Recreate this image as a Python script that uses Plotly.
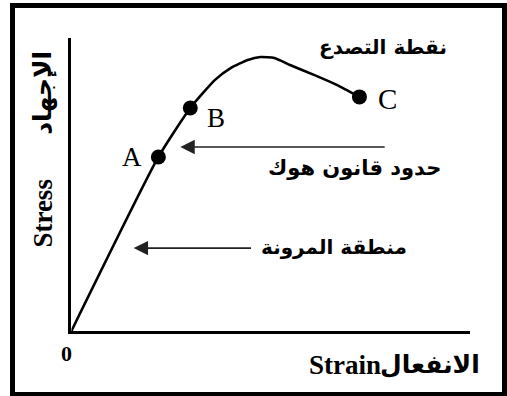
import plotly.graph_objects as go

# Curve (strain, stress), arbitrary units 0..10
strain = [0.0, 2.18, 2.98, 3.60, 4.00, 4.42, 4.74, 5.09, 5.48, 6.08, 6.65, 7.22]
stress = [0.0, 5.94, 7.61, 8.57, 8.98, 9.25, 9.35, 9.32, 9.08, 8.74, 8.40, 7.99]

point_names = ["A", "B", "C"]
point_strain = [2.18, 2.98, 7.22]
point_stress = [5.94, 7.61, 7.99]

label_yield = "نقطة التصدع"
label_hooke = "حدود قانون هوك"
label_elastic = "منطقة المرونة"
x_title_en = "Strain"
x_title_ar = "الانفعال"
y_title_en = "Stress"
y_title_ar = "الإجهاد"

hooke_arrow_y = 6.28
elastic_arrow_y = 2.83

serif = "Liberation Serif, Times New Roman, serif"
arab = "DejaVu Sans, sans-serif"

fig = go.Figure()
# empty trace so the full-size frame subplot is created and its axis lines drawn
fig.add_trace(go.Scatter(x=[], y=[], xaxis="x", yaxis="y", mode="lines", hoverinfo="skip"))
fig.add_trace(go.Scatter(x=strain, y=stress, mode="lines", xaxis="x2", yaxis="y2",
                         line=dict(color="black", width=2.6, shape="spline", smoothing=0.5),
                         hoverinfo="skip"))
fig.add_trace(go.Scatter(x=point_strain, y=point_stress, mode="markers", xaxis="x2", yaxis="y2",
                         marker=dict(color="black", size=15), hoverinfo="skip"))

ann = []
offsets = {"A": (-26, 0, 27), "B": (26, -10, 27), "C": (28, -2, 29)}
for n, xv, yv in zip(point_names, point_strain, point_stress):
    dx, dy, fs = offsets[n]
    ann.append(dict(xref="x2", yref="y2", x=xv, y=yv, text=n, showarrow=False,
                    xshift=dx, yshift=dy, xanchor="center", yanchor="middle",
                    font=dict(family=serif, size=fs, color="black")))

ann.append(dict(x=2.73, y=hooke_arrow_y, ax=7.89, ay=hooke_arrow_y, axref="x2", ayref="y2",
                xref="x2", yref="y2", text="", showarrow=True, arrowhead=2, arrowsize=1.8,
                arrowwidth=1.6, arrowcolor="#222"))
ann.append(dict(x=1.56, y=elastic_arrow_y, ax=4.54, ay=elastic_arrow_y, axref="x2", ayref="y2",
                xref="x2", yref="y2", text="", showarrow=True, arrowhead=2, arrowsize=1.8,
                arrowwidth=1.6, arrowcolor="#222"))

def txt(x, y, t, fam, size, dom=False, angle=0):
    xr, yr = ("x2 domain", "y2 domain") if dom else ("x2", "y2")
    return dict(xref=xr, yref=yr, x=x, y=y, text=t, showarrow=False,
                xanchor="center", yanchor="middle", textangle=angle,
                font=dict(family=fam, size=size, color="black"))

ann.append(txt(7.82, 9.69, "<b>" + label_yield + "</b>", arab, 20))
ann.append(txt(7.10, 5.56, "<b>" + label_hooke + "</b>", arab, 21))
ann.append(txt(6.58, 2.87, "<b>" + label_elastic + "</b>", arab, 20))

ann.append(dict(xref="x2", yref="y2", x=0, y=0, text="<b>0</b>", showarrow=False,
                xshift=-5, yshift=-23, xanchor="center", yanchor="middle",
                font=dict(family=serif, size=22, color="black")))

ann.append(txt(0.687, -0.116, "<b>" + x_title_en + "</b>", serif, 27, dom=True))
ann.append(txt(0.898, -0.116, "<b>" + x_title_ar + "</b>", arab, 25, dom=True))
ann.append(txt(-0.072, 0.403, "<b>" + y_title_en + "</b>", serif, 27, dom=True, angle=-90))
ann.append(txt(-0.072, 0.812, "<b>" + y_title_ar + "</b>", arab, 25, dom=True, angle=-90))

hidden = dict(showgrid=False, zeroline=False, showticklabels=False, ticks="", fixedrange=True)
fig.update_layout(
    width=507, height=396,
    margin=dict(l=15, r=0, t=8, b=4, pad=0),
    paper_bgcolor="white", plot_bgcolor="white",
    showlegend=False,
    annotations=ann,
    xaxis=dict(domain=[0, 1], range=[0, 1], anchor="y", showline=True, mirror=True,
               linecolor="black", linewidth=5, **hidden),
    yaxis=dict(domain=[0, 1], range=[0, 1], anchor="x", showline=True, mirror=True,
               linecolor="black", linewidth=5, **hidden),
    xaxis2=dict(domain=[0.11585, 0.93496], range=[0, 10], anchor="y2", showline=True,
                linecolor="black", linewidth=3.2, **hidden),
    yaxis2=dict(domain=[0.15885, 0.92188], range=[0, 10], anchor="x2", showline=True,
                linecolor="black", linewidth=3.2, **hidden),
)

fig.write_html("out.html", config={"displayModeBar": False},
               post_script="document.body.style.margin='0';document.body.style.overflow='hidden';")
